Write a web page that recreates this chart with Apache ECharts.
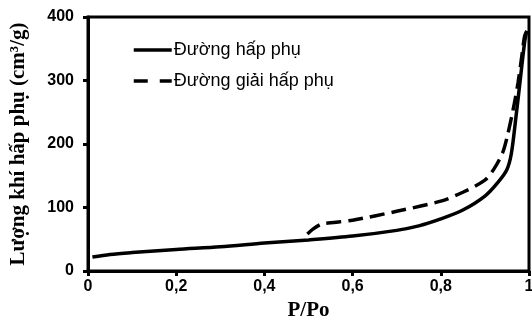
<!DOCTYPE html>
<html><head><meta charset="utf-8">
<script src="https://cdn.jsdelivr.net/npm/echarts@6/dist/echarts.min.js"></script>
<style>html,body{margin:0;padding:0;background:#fff}#c{width:532px;height:322px}</style>
</head><body><div id="c"></div>
<script>
const seriesNames = ['Đường hấp phụ', 'Đường giải hấp phụ'];
const adsorption = [[0.01,22],[0.05,26],[0.1,29],[0.2,34],[0.3,38],[0.4,44],[0.5,49],[0.6,55],[0.7,64],[0.75,71],[0.8,82],[0.85,96],[0.9,118],[0.93,140],[0.95,160],[0.96,185],[0.97,240],[0.98,300],[0.99,360],[0.995,378]];
const desorption = [[0.995,378],[0.99,370],[0.985,345],[0.975,296],[0.964,254],[0.95,210],[0.94,186],[0.92,160],[0.9,143],[0.85,124],[0.8,110],[0.7,94],[0.6,80],[0.55,76],[0.53,74],[0.51,66],[0.497,58]];
const xTicks = {min:0, max:1, interval:0.2};
const yTicks = {min:0, max:400, interval:100};

const chart = echarts.init(document.getElementById('c'));
const tickFont = {fontFamily:'Liberation Sans, Arial', fontWeight:'bold', fontSize:16, color:'#000'};
const titleFont = {fontFamily:'Liberation Serif, Times New Roman', fontWeight:'bold', fontSize:21, color:'#000'};
chart.setOption({
  animation:false,
  grid:{left:88, right:3, top:17, bottom:51, show:true, borderColor:'#000', borderWidth:3, outerBoundsMode:'none', containLabel:false},
  legend:{
    left:127, top:36, orient:'vertical', itemGap:13, itemWidth:38, itemHeight:12,
    itemStyle:{opacity:0},
    lineStyle:{width:3.5, color:'#000'},
    textStyle:{fontFamily:'Liberation Sans, Arial', fontSize:18, color:'#000', padding:[0,0,0,-3]},
    data:[
      {name:seriesNames[0]},
      {name:seriesNames[1], lineStyle:{type:[14,12], width:3.5}}
    ]
  },
  xAxis:{
    type:'value', min:xTicks.min, max:xTicks.max, interval:xTicks.interval,
    name:'P/Po', nameLocation:'middle', nameGap:28,
    nameTextStyle:titleFont,
    axisLine:{lineStyle:{color:'#000', width:3}},
    axisTick:{show:true, length:5, lineStyle:{color:'#000', width:3}},
    axisLabel:Object.assign({margin:8, formatter:v=>String(v).replace('.',',')}, tickFont),
    splitLine:{show:false}
  },
  yAxis:{
    type:'value', min:yTicks.min, max:yTicks.max, interval:yTicks.interval,
    name:'Lượng khí hấp phụ (cm³/g)', nameLocation:'middle', nameGap:59,
    nameTextStyle:titleFont,
    axisLine:{show:true, lineStyle:{color:'#000', width:3}},
    axisTick:{show:true, length:5, lineStyle:{color:'#000', width:3}},
    axisLabel:Object.assign({margin:14}, tickFont),
    splitLine:{show:false}
  },
  series:[
    {name:seriesNames[0], type:'line', data:adsorption, symbol:'none', smooth:0.3,
     lineStyle:{color:'#000', width:3.5}, itemStyle:{color:'#000'}},
    {name:seriesNames[1], type:'line', data:desorption, symbol:'none', smooth:0.3,
     lineStyle:{color:'#000', width:3.5, type:[15,7]}, itemStyle:{color:'#000'}}
  ]
});
</script></body></html>
